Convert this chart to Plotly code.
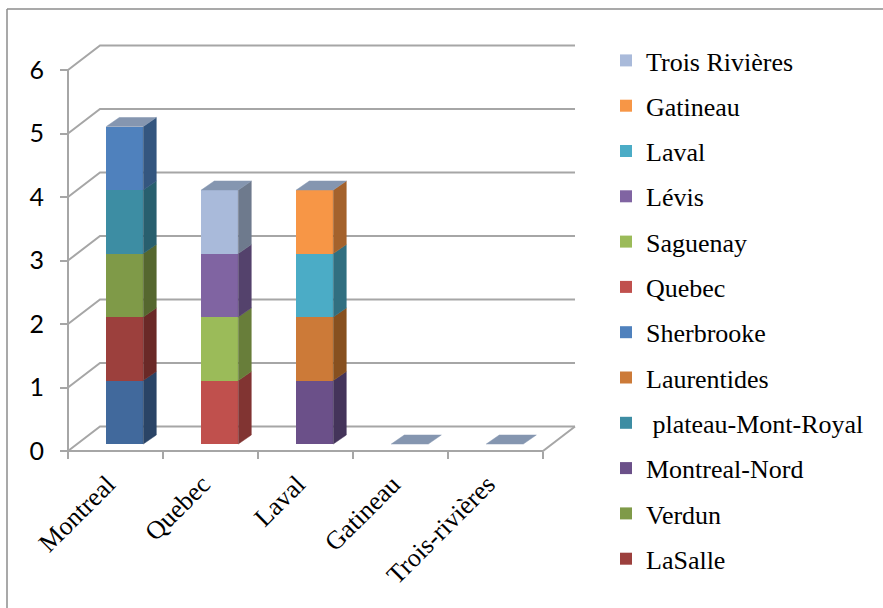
import plotly.graph_objects as go
import numpy as np

# ---------------- data ----------------
categories = ["Montreal", "Quebec", "Laval", "Gatineau", "Trois-rivières"]
y_ticks = [0, 1, 2, 3, 4, 5, 6]

# stacking order bottom -> top
series_names = ["Série 1", "LaSalle", "Verdun", "Montreal-Nord", " plateau-Mont-Royal",
                "Laurentides", "Sherbrooke", "Quebec", "Saguenay", "Lévis",
                "Laval", "Gatineau", "Trois Rivières"]
serie_1 = [1, 0, 0, 0, 0]
lasalle = [1, 0, 0, 0, 0]
verdun = [1, 0, 0, 0, 0]
montreal_nord = [0, 0, 1, 0, 0]
plateau = [1, 0, 0, 0, 0]
laurentides = [0, 0, 1, 0, 0]
sherbrooke = [1, 0, 0, 0, 0]
quebec = [0, 1, 0, 0, 0]
saguenay = [0, 1, 0, 0, 0]
levis = [0, 1, 0, 0, 0]
laval = [0, 0, 1, 0, 0]
gatineau = [0, 0, 1, 0, 0]
trois_rivieres = [0, 1, 0, 0, 0]
series_values = [serie_1, lasalle, verdun, montreal_nord, plateau, laurentides,
                 sherbrooke, quebec, saguenay, levis, laval, gatineau, trois_rivieres]
show_in_legend = [False] + [True] * 12

front_colors = ["#41699C", "#9C403D", "#7F9A48", "#6B5089", "#3D8DA3", "#CC7A38",
                "#4F81BD", "#C0504D", "#9BBB59", "#8064A2", "#4BACC6", "#F79646", "#A9BADA"]
side_colors = ["#2A4466", "#6A2927", "#55672F", "#44345A", "#285F6E", "#87501F",
               "#34567F", "#813432", "#687E3A", "#54426C", "#316F80", "#A4622C", "#6E7A8D"]
top_color = "#8596B0"
grid_color = "#A6A6A6"

# ---------------- geometry (pseudo 3-D) ----------------
PXX, PXY = 95.0, 63.5          # pixels per unit
WX, WY = 32 / PXX, 24.5 / PXY  # wall depth
FX, FY = 9.3 / PXX, 7 / PXY    # bar front offset
DX, DY = 13 / PXX, 9 / PXY     # bar depth
BW = 37 / PXX                  # bar width
LBL_SHIFT = 8 / PXX            # category label nudge
n = len(categories)
xc = np.arange(n)

L, R, T, B = 58, 585, 30, 460
W, H = 883, 608
x0 = -0.5 - (68 - L) / PXX
x1 = -0.5 + (R - 68) / PXX
y0 = -(B - 451) / PXY
y1 = (451 - T) / PXY

fig = go.Figure()

# compute stack bases
bases = []
cum = np.zeros(n)
for vals in series_values:
    bases.append(cum.copy())
    cum = cum + np.array(vals, dtype=float)
totals = cum

# front faces (added top series first so the legend reads top -> bottom)
for k in reversed(range(len(series_names))):
    v = np.array(series_values[k], dtype=float)
    fig.add_trace(go.Bar(
        x=xc, y=v, base=bases[k] + FY, width=BW, offset=-BW / 2 + FX,
        marker=dict(color=front_colors[k], line=dict(width=0)), name=series_names[k],
        showlegend=show_in_legend[k], legendgroup=f"g{len(series_names) - k:02d}",
    ))

# side faces
for k in range(len(series_names)):
    v = np.array(series_values[k], dtype=float)
    xs, ys = [], []
    for i in range(n):
        if v[i] <= 0:
            continue
        xr = xc[i] - BW / 2 + FX + BW
        yb = bases[k][i] + FY
        yt = yb + v[i]
        xs += [xr, xr + DX, xr + DX, xr, xr, None]
        ys += [yb, yb + DY, yt + DY, yt, yb, None]
    if xs:
        fig.add_trace(go.Scatter(x=xs, y=ys, mode="lines", fill="toself",
                                 fillcolor=side_colors[k],
                                 line=dict(width=0.5, color=side_colors[k]), showlegend=False,
                                 hoverinfo="skip"))

# top caps
xs, ys = [], []
for i in range(n):
    xl = xc[i] - BW / 2 + FX
    xr = xl + BW
    yt = totals[i] + FY
    xs += [xl, xr, xr + DX, xl + DX, xl, None]
    ys += [yt, yt, yt + DY, yt + DY, yt, None]
fig.add_trace(go.Scatter(x=xs, y=ys, mode="lines", fill="toself", fillcolor=top_color,
                         line=dict(width=0.5, color=top_color), showlegend=False, hoverinfo="skip"))

# walls / gridlines
shapes = []
xa, xb = -0.5, n - 0.5
for v in y_ticks:
    shapes.append(dict(type="path", xref="x", yref="y", layer="below",
                       path=f"M{xa},{v} L{xa + WX},{v + WY} L{xb + WX},{v + WY}",
                       line=dict(color=grid_color, width=2)))
shapes.append(dict(type="line", xref="x", yref="y", layer="below",
                   x0=xa, y0=0, x1=xa, y1=y_ticks[-1], line=dict(color=grid_color, width=2)))
shapes.append(dict(type="path", xref="x", yref="y", layer="below",
                   path=f"M{xa},0 L{xb},0 L{xb + WX},{WY}",
                   line=dict(color=grid_color, width=2)))
# chart frame
pw, ph = R - L, B - T
fx = (7 - L) / pw
fy = (B - 9) / ph
shapes.append(dict(type="line", xref="paper", yref="paper", x0=fx, x1=fx, y0=-0.5, y1=fy,
                   line=dict(color="#8C8C8C", width=1.5)))
shapes.append(dict(type="line", xref="paper", yref="paper", x0=fx, x1=1.7, y0=fy, y1=fy,
                   line=dict(color="#8C8C8C", width=1.5)))

fig.update_layout(
    width=W, height=H,
    margin=dict(l=L, r=W - R, t=T, b=H - B),
    paper_bgcolor="white", plot_bgcolor="white",
    barmode="overlay", bargap=0,
    shapes=shapes,
    showlegend=True,
    legend=dict(x=(606 - L) / pw, y=(B - 37) / ph, xanchor="left", yanchor="top",
                traceorder="grouped", tracegroupgap=8.5, maxheight=600,
                font=dict(family="Liberation Serif", size=26, color="black"),
                bgcolor="rgba(0,0,0,0)"),
    xaxis=dict(range=[x0, x1], tickmode="array", tickvals=list(xc - LBL_SHIFT),
               ticktext=categories,
               tickangle=-45, ticks="", showgrid=False, zeroline=False, showline=False,
               anchor="free", position=(B - 451) / ph, ticklabelstandoff=12,
               tickfont=dict(family="Liberation Serif", size=26, color="black"),
               minor=dict(tickmode="array", tickvals=[i - 0.5 for i in range(n + 1)],
                          ticks="outside", ticklen=7, tickwidth=2, tickcolor=grid_color,
                          showgrid=False)),
    yaxis=dict(range=[y0, y1], tickmode="array", tickvals=y_ticks, ticks="outside",
               ticklen=8, tickwidth=2, tickcolor=grid_color, showgrid=False, zeroline=False,
               showline=False, anchor="free", position=(68 - L) / pw, ticklabelstandoff=11,
               tickfont=dict(family="Lato", size=25, color="black")),
    hovermode=False,
)

fig.write_html("out.html", config={"displayModeBar": False},
               post_script="document.body.style.margin='0';document.body.style.overflow='hidden';")
